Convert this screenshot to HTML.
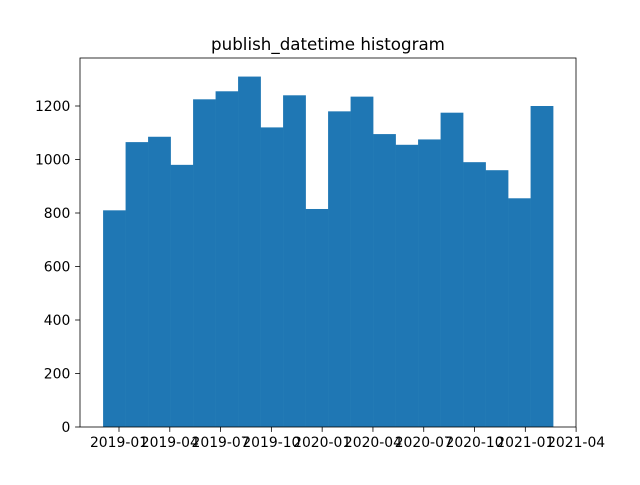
<!DOCTYPE html>
<html><head><meta charset="utf-8"><style>
body{margin:0;background:#fff;font-family:"Liberation Sans","DejaVu Sans",sans-serif}
svg text{font-family:"DejaVu Sans","Liberation Sans",sans-serif;font-size:13.9px;fill:#000}
</style></head><body>
<svg id="chart" width="640" height="480" xmlns="http://www.w3.org/2000/svg">
<rect width="640" height="480" fill="#fff"/>
<text x="328" y="50" text-anchor="middle" style="font-size:16.7px">publish_datetime histogram</text>
<g id="bars"></g><g id="axes"></g>
</svg>
<script>
const counts=[810,1065,1085,980,1225,1255,1310,1120,1240,815,1180,1235,1095,1055,1075,1175,990,960,855,1200];
const binStartMonth=-0.94, binEndMonth=25.64; // months since 2019-01
const yTicks=[0,200,400,600,800,1000,1200];
const xTickLabels=["2019-01","2019-04","2019-07","2019-10","2020-01","2020-04","2020-07","2020-10","2021-01","2021-04"];
const xTickMonths=[0,3,6,9,12,15,18,21,24,27];
const NS="http://www.w3.org/2000/svg";
const L=80,R=576,T=58,B=427;
const xs=m=>119+m*16.93;
const ys=v=>B-v*(B-106)/1200;
function mk(t,a,p){const e=document.createElementNS(NS,t);for(const k in a)e.setAttribute(k,a[k]);p.appendChild(e);return e;}
const bars=document.getElementById('bars'),axes=document.getElementById('axes');
const bw=(binEndMonth-binStartMonth)/counts.length;
counts.forEach((c,i)=>{
 const x0=xs(binStartMonth+i*bw),x1=xs(binStartMonth+(i+1)*bw);
 const r=mk('rect',{x:x0,y:ys(c),width:x1-x0+0.3,height:B-ys(c),fill:'#1f77b4'},bars);
 
 
});
const fr=mk('rect',{x:L,y:T,width:R-L,height:B-T,fill:'none',stroke:'#000','stroke-width':0.8},axes);


yTicks.forEach(v=>{
 const y=ys(v);
 mk('line',{x1:L-4.9,x2:L,y1:y,y2:y,stroke:'#000','stroke-width':0.8},axes);
 const t=mk('text',{x:L-9.7,y:y+5,'text-anchor':'end'},axes);t.textContent=v;
 
 
});
xTickMonths.forEach((m,i)=>{
 const x=xs(m);
 mk('line',{x1:x,x2:x,y1:B,y2:B+4.9,stroke:'#000','stroke-width':0.8},axes);
 const t=mk('text',{x:x,y:B+20,'text-anchor':'middle'},axes);t.textContent=xTickLabels[i];
 
 
});
</script>
</body></html>
